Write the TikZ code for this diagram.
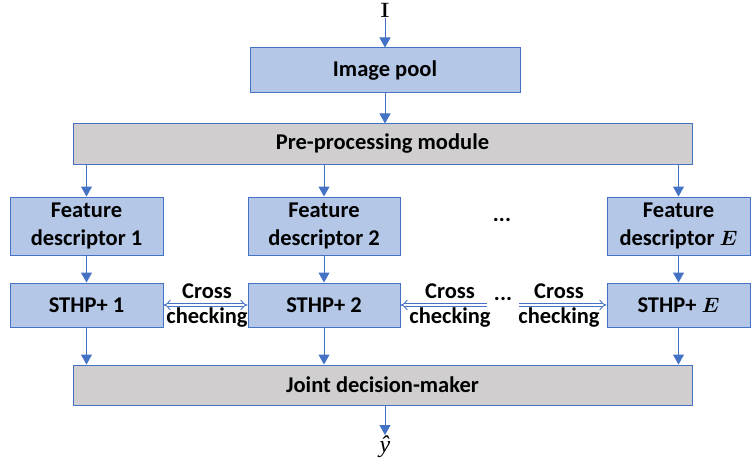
\documentclass[tikz,border=0pt]{standalone}
\usepackage{amsmath}
\usepackage[no-math]{fontspec}
\setmainfont{Carlito}
\newfontfamily\outfont{Liberation Serif}
\usetikzlibrary{arrows.meta}
\definecolor{boxblue}{HTML}{B4C7E7}
\definecolor{edgeblue}{HTML}{4472C4}
\definecolor{boxgray}{HTML}{D0CECE}
\tikzset{
  txt/.style={font=\bfseries\fontsize{22.5}{28}\selectfont},
  blk/.style={txt, draw=edgeblue, line width=1pt, fill=boxblue, minimum height=45pt, align=center, inner sep=0pt},
  bar/.style={txt, draw=edgeblue, line width=1pt, fill=boxgray, minimum height=40pt, minimum width=619pt, inner sep=0pt},
  flow/.style={draw=edgeblue, line width=1pt, -{Triangle[length=10pt,width=11pt]}},
  xcheck/.style={draw=edgeblue, line width=0.9pt, double=white, double distance=2.8pt, -{Implies}},
  lbl/.style={txt, inner sep=0pt}
}
\begin{document}
\begin{tikzpicture}[x=1pt,y=-1pt]
\useasboundingbox (0,0) rectangle (752,468);
% input and image pool
\node[font=\fontsize{22}{24}\selectfont, inner sep=1pt] (in) at (385,10) {$\mathbf{I}$};
\node[blk, minimum width=270pt] (pool) at (385,70.5) {Image pool};
\node[bar] (pre) at (382.5,144) {Pre-processing module};
% feature descriptors
\node[blk, minimum width=153pt, minimum height=58pt] (f1) at (86.5,226) {Feature\\descriptor 1};
\node[blk, minimum width=152pt, minimum height=58pt] (f2) at (324,226) {Feature\\descriptor 2};
\node[blk, minimum width=143pt, minimum height=58pt] (fE) at (678.5,226) {Feature\\descriptor $\boldsymbol{E}$};
\node[lbl] (fdots) at (502,220) {...};
% STHP+ blocks
\node[blk, minimum width=153pt, minimum height=44pt] (s1) at (86.5,305) {STHP+ 1};
\node[blk, minimum width=152pt, minimum height=44pt] (s2) at (324,305) {STHP+ 2};
\node[blk, minimum width=143pt, minimum height=44pt] (sE) at (678.5,305) {STHP+ $\boldsymbol{E}$};
% joint decision
\node[bar] (joint) at (382.5,385) {Joint decision-maker};
\node[font=\outfont\itshape\fontsize{24}{26}\selectfont, inner sep=1pt, anchor=north] (out) at (385,435) {ŷ};
% main flow
\draw[flow] (in) -- (pool);
\draw[flow] (pool) -- (pool|-pre.north);
\foreach \f/\s in {f1/s1, f2/s2, fE/sE}{
  \draw[flow] (\f|-pre.south) -- (\f);
  \draw[flow] (\f) -- (\s);
  \draw[flow] (\s) -- (\s|-joint.north);
}
\draw[flow] (joint.south-|out) -- (out.north);
% cross checking links
\draw[xcheck, {Implies}-{Implies}] (s1.east) -- (s2.west);
\node[lbl] (c1a) at (207,291) {Cross};
\node[lbl] (c1b) at (207,318) {checking};
\coordinate (m1) at (487,305);
\coordinate (m2) at (519,305);
\draw[xcheck] (m1) -- (s2.east);
\node[lbl] (c2a) at (450,291) {Cross};
\node[lbl] (c2b) at (450,318) {checking};
\node[lbl] (sdots) at (503,299) {...};
\draw[xcheck] (m2) -- (sE.west);
\node[lbl] (c3a) at (559,291) {Cross};
\node[lbl] (c3b) at (559,318) {checking};
\end{tikzpicture}
\end{document}
